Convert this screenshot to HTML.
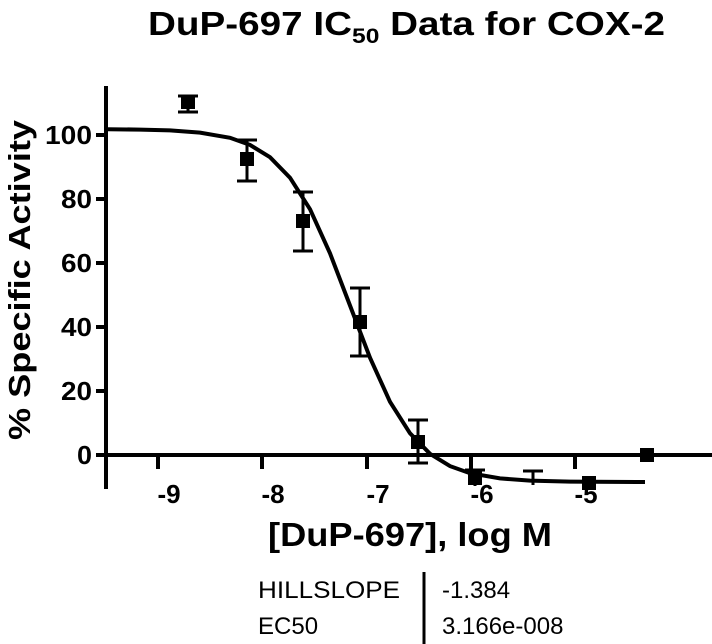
<!DOCTYPE html>
<html><head><style>body{margin:0;background:#fff}svg{display:block}</style></head><body>
<svg width="712" height="644" xmlns="http://www.w3.org/2000/svg" font-family="Liberation Sans, Arial, sans-serif">
<rect width="712" height="644" fill="#fff"/>
<text x="148" y="35" font-size="33" font-weight="bold" textLength="517" lengthAdjust="spacingAndGlyphs">DuP-697 IC<tspan font-size="21" dy="8">50</tspan><tspan dy="-8"> Data for COX-2</tspan></text>
<g stroke="#000" stroke-width="4" fill="none">
<line x1="106" y1="86" x2="106" y2="489"/>
<line x1="106" y1="455" x2="712" y2="455"/>
<line x1="96" y1="135" x2="106" y2="135"/>
<line x1="96" y1="199" x2="106" y2="199"/>
<line x1="96" y1="263" x2="106" y2="263"/>
<line x1="96" y1="327" x2="106" y2="327"/>
<line x1="96" y1="391" x2="106" y2="391"/>
<line x1="96" y1="455" x2="106" y2="455"/>
<line x1="158" y1="455" x2="158" y2="469"/>
<line x1="262" y1="455" x2="262" y2="469"/>
<line x1="367" y1="455" x2="367" y2="469"/>
<line x1="471" y1="455" x2="471" y2="469"/>
<line x1="575" y1="455" x2="575" y2="469"/>
<path d="M108,129.2 L140,129.6 L170,130.4 L200,132.6 L230,137.8 L250,144.9 L270,157.2 L290,177.7 L310,209.2 L330,253.3 L350,305.5 L370,357.7 L390,401.8 L410,433.3 L430,453.8 L450,466.1 L470,473.2 L500,478.4 L530,480.6 L570,481.6 L645,482"/>
</g>
<g stroke="#000" stroke-width="3" fill="none">
<path d="M188,96V112M178,96H198M178,112H198"/>
<path d="M247,140V181M237,140H257M237,181H257"/>
<path d="M303,192V251M293,192H313M293,251H313"/>
<path d="M360,288V356M350,288H370M350,356H370"/>
<path d="M418,420V463M408,420H428M408,463H428"/>
<path d="M475,470V486M465,470H485"/>
<path d="M533,471V485M523,471H543"/>
<path d="M647,450V462"/>
</g>
<g fill="#000">
<rect x="181" y="95" width="14" height="14"/>
<rect x="240" y="152" width="14" height="14"/>
<rect x="296" y="214" width="14" height="14"/>
<rect x="353" y="315" width="14" height="14"/>
<rect x="411" y="435" width="14" height="14"/>
<rect x="468" y="471" width="14" height="14"/>
<rect x="582" y="476" width="14" height="14"/>
<rect x="640" y="448" width="14" height="14"/>
</g>
<g font-size="26" font-weight="bold" text-anchor="end">
<text x="92" y="144" textLength="47" lengthAdjust="spacingAndGlyphs">100</text>
<text x="92" y="208" textLength="31" lengthAdjust="spacingAndGlyphs">80</text>
<text x="92" y="272" textLength="31" lengthAdjust="spacingAndGlyphs">60</text>
<text x="92" y="336" textLength="31" lengthAdjust="spacingAndGlyphs">40</text>
<text x="92" y="400" textLength="31" lengthAdjust="spacingAndGlyphs">20</text>
<text x="92" y="464" textLength="15" lengthAdjust="spacingAndGlyphs">0</text>
</g>
<g font-size="26" font-weight="bold" text-anchor="middle">
<text x="169" y="503">-9</text>
<text x="273" y="503">-8</text>
<text x="378" y="503">-7</text>
<text x="482" y="503">-6</text>
<text x="586" y="503">-5</text>
</g>
<text transform="translate(30,280) rotate(-90)" text-anchor="middle" font-size="31" font-weight="bold" textLength="320" lengthAdjust="spacingAndGlyphs">% Specific Activity</text>
<text x="268" y="546" font-size="33" font-weight="bold" textLength="284" lengthAdjust="spacingAndGlyphs">[DuP-697], log M</text>
<line x1="424" y1="572" x2="424" y2="644" stroke="#000" stroke-width="3"/>
<g font-size="24">
<text x="258" y="598" textLength="142" lengthAdjust="spacingAndGlyphs">HILLSLOPE</text>
<text x="442" y="598">-1.384</text>
<text x="258" y="634">EC50</text>
<text x="442" y="634">3.166e-008</text>
</g>
</svg>
</body></html>
